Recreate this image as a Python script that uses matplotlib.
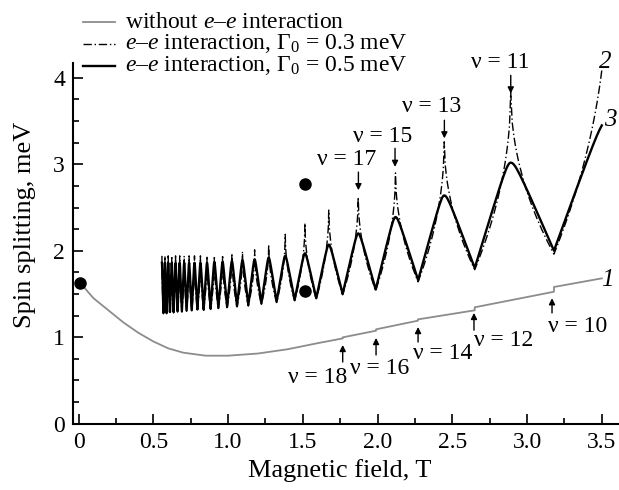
import numpy as np
import matplotlib.pyplot as plt
from matplotlib.lines import Line2D

plt.rcParams['font.family'] = 'Liberation Serif'
plt.rcParams['mathtext.fontset'] = 'custom'
plt.rcParams['mathtext.rm'] = 'Liberation Serif'
plt.rcParams['mathtext.it'] = 'Liberation Serif:italic'

# curve 1: without e-e interaction (small steps at even nu)
field_1 = [0.01, 0.1, 0.2, 0.3, 0.4, 0.5, 0.6, 0.7, 0.85, 1.0, 1.2, 1.4, 1.6,
           1.767, 1.767, 1.99, 1.99, 2.27, 2.27, 2.65, 2.65, 3.18, 3.18, 3.5]
split_1 = [1.63, 1.45, 1.31, 1.17, 1.05, 0.95, 0.87, 0.82, 0.785, 0.785, 0.81, 0.86, 0.93,
           0.985, 0.997, 1.074, 1.09, 1.19, 1.205, 1.31, 1.345, 1.525, 1.58, 1.68]

# field of filling factor nu: B = B_NU / nu  (nu = 10 at 3.18 T)
B_NU = 31.8
nu_odd = [57, 55, 53, 51, 49, 47, 45, 43, 41, 39, 37, 35, 33, 31, 29, 27, 25, 23, 21, 19, 17, 15, 13, 11]
nu_even = [56, 54, 52, 50, 48, 46, 44, 42, 40, 38, 36, 34, 32, 30, 28, 26, 24, 22, 20, 18, 16, 14, 12, 10]

# curve 3: e-e, Gamma0 = 0.5 meV (solid)
peaks_05 = [1.86, 1.86, 1.86, 1.86, 1.86, 1.86, 1.86, 1.86, 1.86, 1.86, 1.86, 1.87,
            1.87, 1.88, 1.89, 1.90, 1.92, 1.94, 1.97, 2.07, 2.20, 2.39, 2.64, 3.02]
valleys_05 = [1.28, 1.28, 1.29, 1.29, 1.30, 1.30, 1.31, 1.31, 1.32, 1.32, 1.33, 1.34,
              1.35, 1.36, 1.37, 1.39, 1.41, 1.43, 1.45, 1.50, 1.55, 1.66, 1.80, 2.00]
end_05 = 3.45

# curve 2: e-e, Gamma0 = 0.3 meV (dash-dot)
peaks_03 = [1.94, 1.94, 1.94, 1.94, 1.94, 1.94, 1.94, 1.94, 1.94, 1.94, 1.94, 1.94,
            1.95, 1.97, 1.99, 2.01, 2.07, 2.19, 2.32, 2.47, 2.62, 2.90, 3.26, 3.83]
valleys_03 = [1.27, 1.27, 1.28, 1.28, 1.29, 1.29, 1.30, 1.30, 1.31, 1.31, 1.32, 1.33,
              1.34, 1.35, 1.36, 1.38, 1.40, 1.42, 1.44, 1.49, 1.54, 1.64, 1.78, 1.96]
end_03 = 4.09

field_end = 3.5

dot_field = [0.01, 1.516, 1.516]
dot_split = [1.63, 2.77, 1.53]


def shape_round(t):
    r = 0.12
    return 1 - (np.sqrt(t**2 + r**2) - r) / (np.sqrt(1 + r**2) - r)


def shape_cusp(t):
    return 1 - np.sqrt(t)


def build(peaks, valleys, end_val, shape):
    ext = []
    for i in range(len(nu_odd)):
        ext.append((B_NU / nu_odd[i], peaks[i], True))
        ext.append((B_NU / nu_even[i], valleys[i], False))
    xs, ys = [], []
    for (b0, y0, p0), (b1, y1, p1) in zip(ext[:-1], ext[1:]):
        b = np.linspace(b0, b1, 30)
        if p0:
            bp, yp, yv = b0, y0, y1
        else:
            bp, yp, yv = b1, y1, y0
        t = np.abs(b - bp) / abs(b1 - b0)
        xs.append(b)
        ys.append(yv + (yp - yv) * shape(t))
    # last rise after nu = 10, towards nu = 9
    bv, yv = ext[-1][0], ext[-1][1]
    bp = B_NU / 9
    b = np.linspace(bv, field_end, 40)
    t = (bp - b) / (bp - bv)
    t_end = (bp - field_end) / (bp - bv)
    xs.append(b)
    ys.append(yv + (end_val - yv) * (shape(t) / shape(t_end)))
    return np.concatenate(xs), np.concatenate(ys)


fig = plt.figure(figsize=(6.19, 4.9), dpi=100)
ax = fig.add_axes([0.1184, 0.1357, 0.8816, 0.7353])

ax.plot(field_1, split_1, color='#8c8c8c', lw=1.3)
x3, y3 = build(peaks_05, valleys_05, end_05, shape_round)
ax.plot(x3, y3, color='k', lw=1.7)
x2, y2 = build(peaks_03, valleys_03, end_03, shape_cusp)
ax.plot(x2, y2, color='k', lw=1.0, dashes=(6, 2, 1, 2))
ax.plot(dot_field, dot_split, 'o', color='k', ms=8, clip_on=False, zorder=5)

ax.set_xlim(-0.035, 3.615)
ax.set_ylim(0, 4.17)
for s in ['top', 'right']:
    ax.spines[s].set_visible(False)
for s in ['left', 'bottom']:
    ax.spines[s].set_linewidth(1.5)
ax.set_xticks(np.arange(0, 3.51, 0.5))
ax.set_xticklabels(['0', '0.5', '1.0', '1.5', '2.0', '2.5', '3.0', '3.5'])
ax.set_xticks(np.arange(0.25, 3.6, 0.5), minor=True)
ax.set_yticks([0, 1, 2, 3, 4])
ax.set_yticks(np.arange(0, 4.1, 0.25), minor=True)
ax.tick_params(which='both', direction='in', labelsize=17, width=1.2)
ax.tick_params(which='major', length=7, pad=6)
ax.tick_params(which='minor', length=4.5)

fig.text(25 / 619, 1 - 225 / 490, 'Spin splitting, meV', rotation=90,
         ha='center', va='center', fontsize=19)
fig.text(340 / 619, 1 - 471 / 490, 'Magnetic field, T', ha='center', va='center', fontsize=19)

# legend drawn by hand
leg = [('without $e$–$e$ interaction', dict(color='#8c8c8c', lw=1.3)),
       ('$e$–$e$ interaction, Γ$_0$ = 0.3 meV', dict(color='k', lw=1.0, dashes=(6, 2, 1, 2))),
       ('$e$–$e$ interaction, Γ$_0$ = 0.5 meV', dict(color='k', lw=1.7))]
for i, (lab, st) in enumerate(leg):
    yy = 1 - (22.0 + 21.8 * i) / 490
    fig.add_artist(Line2D([82.7 / 619, 115 / 619], [yy, yy], **st))
    fig.text(125 / 619, yy, lab, ha='left', va='center', fontsize=17)

# nu annotations: (text, text x, text y, arrow tail, arrow tip)
marks = [('ν = 11', 2.82, 4.18, (2.891, 4.03), (2.891, 3.82)),
         ('ν = 13', 2.363, 3.67, (2.447, 3.51), (2.447, 3.30)),
         ('ν = 15', 2.033, 3.32, (2.117, 3.185), (2.117, 2.97)),
         ('ν = 17', 1.794, 3.05, (1.872, 2.91), (1.872, 2.70)),
         ('ν = 10', 3.341, 1.12, (3.167, 1.28), (3.167, 1.45)),
         ('ν = 12', 2.846, 0.966, (2.645, 1.08), (2.645, 1.28)),
         ('ν = 14', 2.438, 0.81, (2.271, 0.943), (2.271, 1.117)),
         ('ν = 16', 2.017, 0.64, (1.99, 0.793), (1.99, 0.99)),
         ('ν = 18', 1.602, 0.527, (1.767, 0.712), (1.767, 0.909))]
for txt, tx, ty, tail, tip in marks:
    ax.text(tx, ty, txt, ha='center', va='center', fontsize=17, clip_on=False)
    ax.annotate('', xy=tip, xytext=tail,
                arrowprops=dict(arrowstyle='-|>', color='k', lw=1.0,
                                mutation_scale=9, shrinkA=0, shrinkB=0))

ax.text(3.54, 1.66, '1', style='italic', fontsize=18, ha='center', va='center')
ax.text(3.52, 4.18, '2', style='italic', fontsize=18, ha='center', va='center', clip_on=False)
ax.text(3.555, 3.51, '3', style='italic', fontsize=18, ha='center', va='center')

fig.savefig('out.png', dpi=100)
